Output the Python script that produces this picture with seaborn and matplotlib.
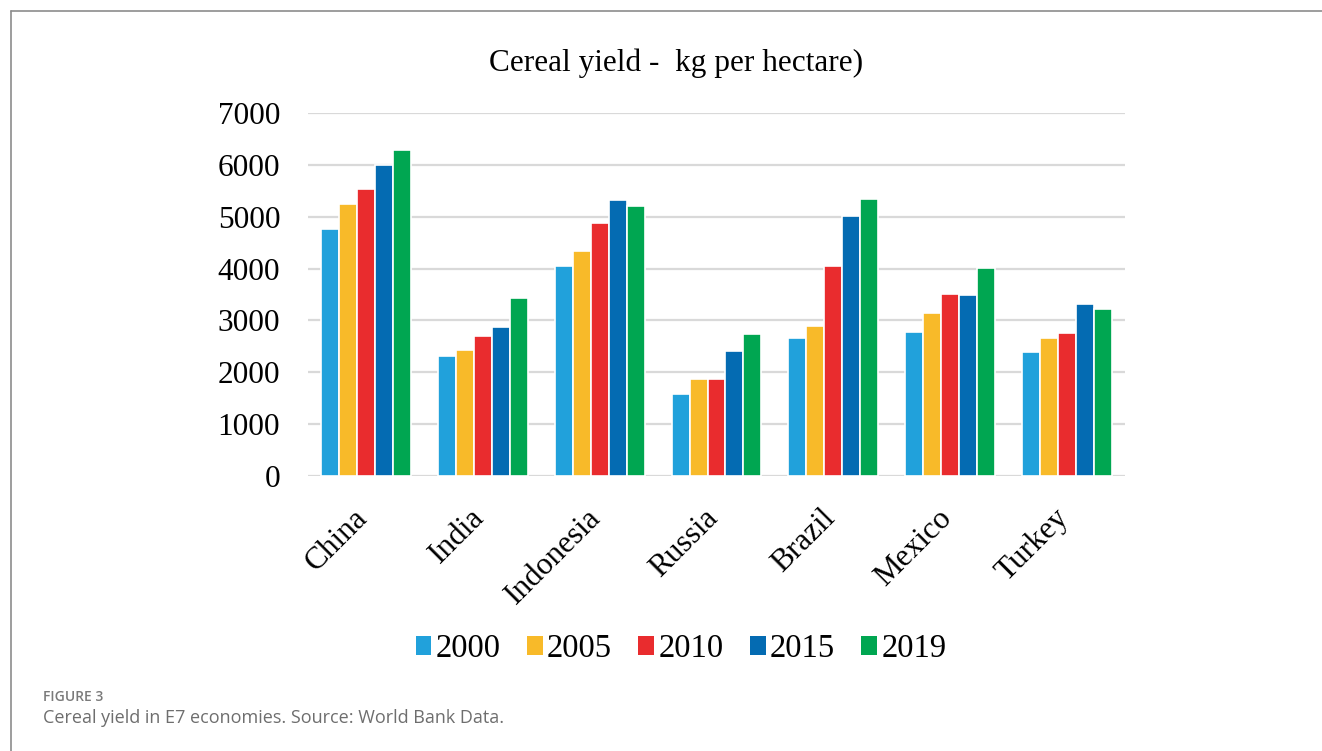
import matplotlib
matplotlib.use("Agg")
import matplotlib.pyplot as plt
from matplotlib.lines import Line2D
from matplotlib.transforms import ScaledTranslation
import seaborn as sns
import pandas as pd

countries = ["China", "India", "Indonesia", "Russia", "Brazil", "Mexico", "Turkey"]
years = ["2000", "2005", "2010", "2015", "2019"]
yield_2000 = [4770, 2310, 4040, 1580, 2660, 2780, 2390]
yield_2005 = [5240, 2430, 4330, 1870, 2900, 3140, 2655]
yield_2010 = [5540, 2695, 4885, 1865, 4055, 3515, 2750]
yield_2015 = [6005, 2875, 5330, 2410, 5015, 3490, 3325]
yield_2019 = [6280, 3430, 5210, 2730, 5335, 4010, 3215]
yticks = [0, 1000, 2000, 3000, 4000, 5000, 6000, 7000]

colors = ["#21A1DB", "#F8BA29", "#E92C2E", "#046BB2", "#00A651"]

series = [yield_2000, yield_2005, yield_2010, yield_2015, yield_2019]
df = pd.DataFrame(
    [(c, y, v) for y, vals in zip(years, series) for c, v in zip(countries, vals)],
    columns=["country", "year", "value"],
)

sns.set_theme(style="white")
plt.rcParams.update({"text.color": "black", "xtick.color": "black",
                     "ytick.color": "black", "axes.labelcolor": "black"})
serif = ["Liberation Serif", "DejaVu Serif"]

fig = plt.figure(figsize=(13.22, 7.51), dpi=100)
ax = fig.add_axes([308 / 1322, 1 - 476 / 751, (1125 - 308) / 1322, (476 - 113) / 751])

sns.barplot(
    data=df, x="country", y="value", hue="year", order=countries, hue_order=years,
    palette=colors, saturation=1, width=0.77, edgecolor="white", linewidth=1.2,
    errorbar=None, ax=ax, legend=True, zorder=3,
)

ax.set_ylim(0, 7000)
ax.set_xlim(-0.5, len(countries) - 0.5)
ax.set_yticks(yticks)
ax.set_yticklabels([str(t) for t in yticks], fontsize=22.5, family=serif, color="black")
ax.yaxis.grid(True, color="#d9d9d9", linewidth=1.6, zorder=0)
ax.set_axisbelow(True)
ax.tick_params(axis="y", length=0, pad=20)
ax.tick_params(axis="x", length=0, pad=14)
for s in ax.spines.values():
    s.set_visible(False)
ax.set_xlabel("")
ax.set_ylabel("")
ax.set_xticks(range(len(countries)))
ax.set_xticklabels(countries, rotation=45, ha="right", va="top",
                   rotation_mode="anchor", fontsize=22.5, family=serif, color="black")
shift = ScaledTranslation(-13 / 100, -8 / 100, fig.dpi_scale_trans)
for lbl in ax.get_xticklabels():
    lbl.set_transform(lbl.get_transform() + shift)

ax.get_legend().remove()
handles = [plt.Rectangle((0, 0), 1, 1, facecolor=c, edgecolor="none") for c in colors]
fig.legend(handles, years, loc="center", bbox_to_anchor=(681 / 1322, 1 - 649 / 751),
           ncol=5, frameon=False, handlelength=0.49, handleheight=0.49,
           handletextpad=0.13, columnspacing=0.8,
           prop={"family": serif, "size": 23.5})

fig.text(676 / 1322, 1 - 63 / 751, "Cereal yield -  kg per hectare)",
         ha="center", va="center", fontsize=22.5, family=serif, color="black")

# figure frame lines
fig.add_artist(Line2D([11 / 1322, 1], [1 - 11 / 751] * 2, color="#8c8c8c", linewidth=1.2,
                      transform=fig.transFigure))
fig.add_artist(Line2D([11 / 1322] * 2, [0, 1 - 11 / 751], color="#8c8c8c", linewidth=1.2,
                      transform=fig.transFigure))

fig.text(43 / 1322, 1 - 697 / 751, "FIGURE 3", ha="left", va="center",
         fontsize=10, family="Open Sans", color="#7a7a7a", fontweight="semibold")
fig.text(43 / 1322, 1 - 718 / 751, "Cereal yield in E7 economies. Source: World Bank Data.",
         ha="left", va="center", fontsize=13, family="Open Sans", color="#6e6e6e")

fig.savefig("out.png", dpi=100, facecolor="white")
